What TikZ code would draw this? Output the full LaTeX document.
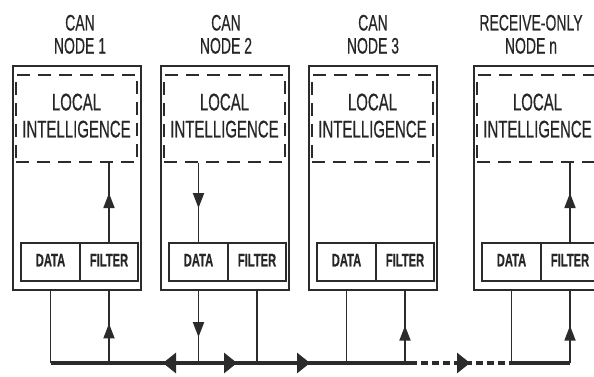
\documentclass[tikz,border=0pt]{standalone}
\usepackage{fontspec}
\setmainfont{Liberation Sans}[FakeBold=0.6]
\usepackage{graphicx}
\usetikzlibrary{arrows.meta,decorations.markings}
\definecolor{ln}{HTML}{2B2B2B}
\definecolor{tc}{HTML}{262626}
\newcommand\vtxt[3]{\scalebox{1}[1.6]{\fontsize{#1}{#2}\selectfont\begin{tabular}{@{}c@{}}#3\end{tabular}}}
\tikzset{
  outerbox/.style={draw=ln, line width=2.3pt, minimum width=128pt, minimum height=224pt, inner sep=0pt},
  intelbox/.style={draw=ln, line width=1.8pt, dash pattern=on 13pt off 8pt, minimum width=121pt, minimum height=87pt, inner sep=0pt, text=tc},
  cellbox/.style={draw=ln, line width=1.6pt, minimum height=38pt, inner sep=0pt, text=tc},
  titlebox/.style={inner sep=0pt, text=tc},
  vline/.style={draw=ln, line width=1.8pt},
  busline/.style={draw=ln, line width=3.2pt},
  busdash/.style={draw=ln, line width=3.2pt, dash pattern=on 7pt off 4pt},
  midarrow/.style={postaction={decorate}, decoration={markings, mark=at position #1 with {\arrow{Triangle[length=15pt,width=11pt]}}}},
}
\begin{document}
\begin{tikzpicture}[x=1pt,y=-1pt]
\useasboundingbox (0,0) rectangle (594,376);
\clip (0,0) rectangle (594,376);
\fill[white] (0,0) rectangle (594,376);
\foreach \i/\lx/\cx/\ti in {1/13/80/{CAN\\NODE 1},2/161/226/{CAN\\NODE 2},3/309/373/{CAN\\NODE 3},4/474/531/{RECEIVE-ONLY\\NODE n}}{
  \node[outerbox] (n\i) at (\lx+64,178) {};
  \node[intelbox] (li\i) at (\lx+63.5,118.5) {\vtxt{15}{16.9}{LOCAL\\INTELLIGENCE}};
  \node[cellbox, minimum width=59pt] (d\i) at (\lx+37.5,262) {\vtxt{11.2}{13.4}{\bfseries DATA}};
  \node[cellbox, minimum width=58pt] (f\i) at (\lx+96,262) {\vtxt{11.2}{13.4}{\bfseries FILTER}};
  \node[titlebox] (t\i) at (\cx,37.4) {\vtxt{14}{14.4}{\ti}};
}
\coordinate (bus) at (0,363);
\coordinate (dashA) at (410,363);
% inner arrows
\draw[vline, midarrow=0.62] (f1.north) -- (f1.north |- li1.south);
\draw[vline, midarrow=0.57] (d2.north |- li2.south) -- (d2.north);
\draw[vline, midarrow=0.62] (f4.north) -- (f4.north |- li4.south);
% lines to bus
\draw[vline] (d1.south |- n1.south) -- (d1.south |- bus);
\draw[vline, midarrow=0.55] (f1.south |- bus) -- (f1.south |- n1.south);
\draw[vline, midarrow=0.64] (d2.south |- n2.south) -- (d2.south |- bus);
\draw[vline] (f2.south |- n2.south) -- (f2.south |- bus);
\draw[vline] (d3.south |- n3.south) -- (d3.south |- bus);
\draw[vline, midarrow=0.52] (f3.south |- bus) -- (f3.south |- n3.south);
\draw[vline] (d4.south |- n4.south) -- (d4.south |- bus);
\draw[vline, midarrow=0.52] (f4.south |- bus) -- (f4.south |- n4.south);
% bus
\draw[busline, postaction={decorate}, decoration={markings,
   mark=at position 112.5pt with {\arrowreversed{Triangle[length=13pt,width=20pt]}},
   mark=at position 186.5pt with {\arrow{Triangle[length=13pt,width=20pt]}},
   mark=at position 259.5pt with {\arrow{Triangle[length=13pt,width=20pt]}}}]
   (d1.south |- bus) -- (dashA);
\draw[busdash, postaction={decorate}, decoration={markings,
   mark=at position 60pt with {\arrow{Triangle[length=13pt,width=20pt]}}}]
   (dashA) -- (d4.south |- bus);
\draw[busline] (d4.south |- bus) -- (f4.south |- bus);
\end{tikzpicture}
\end{document}
